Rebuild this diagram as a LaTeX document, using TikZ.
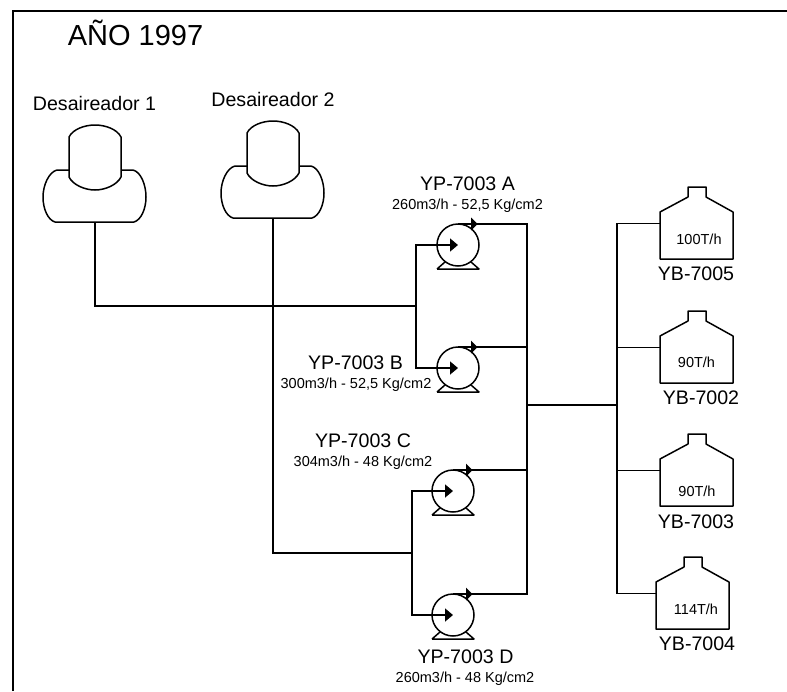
\documentclass[tikz,border=0pt]{standalone}
\usepackage{fontspec}
\setmainfont{Liberation Sans}
\usetikzlibrary{arrows.meta}
\tikzset{
  x=1pt,y=-1pt,
  pipe/.style={line width=1.6pt,line cap=butt},
  frameline/.style={line width=2pt},
  equip/.style={line width=1.5pt,line join=round},
  pumpbody/.style={circle,draw,line width=1.5pt,minimum size=42pt,inner sep=0pt,outer sep=0pt},
  inflow/.style={pipe,-{Triangle[length=8pt,width=13pt]}},
  title/.style={anchor=base,inner sep=0pt,font=\fontsize{29}{29}\selectfont},
  lab/.style={anchor=base,inner sep=0pt,font=\fontsize{19.6}{19.6}\selectfont},
  sublab/.style={anchor=base,inner sep=0pt,font=\fontsize{14.5}{14.5}\selectfont}
}
\newcommand{\pumpsym}[3]{%
  \node[pumpbody] (#1) at (#2,#3) {};
  \begin{scope}[shift={(#2,#3)}]
    \draw[equip] (-21,24)--(21,24)--(13,17) (-21,24)--(-13,17);
    \fill (13,-27.5)--(19.5,-21)--(13,-14.5)--cycle;
  \end{scope}}
\newcommand{\tanksym}[3]{%
  \begin{scope}[shift={(#2,#3)}]
    \draw[equip] (0,72)--(0,25)--(28,10)--(28,0)--(46,0)--(46,10)--(73,25)--(73,72)--cycle;
    \coordinate (#1) at (0,36.5);
  \end{scope}}
\newcommand{\deaersym}[3]{%
  \begin{scope}[shift={(#2,#3)}]
    \draw[equip] (14,45) -- (90,45) .. controls (98,47) and (103,60) .. (103,72)
      .. controls (103,84) and (98,95) .. (91,97) -- (12,97)
      .. controls (5,95) and (0,84) .. (0,72) .. controls (0,60) and (6,47) .. (14,45) -- cycle;
    \draw[equip,fill=white] (26,12) .. controls (30,4) and (42,0) .. (52,0)
      .. controls (62,0) and (74,4) .. (78,12) -- (78,52)
      .. controls (74,60) and (62,65) .. (52,65)
      .. controls (42,65) and (30,60) .. (26,52) -- cycle;
    \coordinate (#1) at (52,97);
  \end{scope}}
\begin{document}
\begin{tikzpicture}
\useasboundingbox (0,0) rectangle (787,691);
\coordinate (frTL) at (13,11);
\coordinate (frTR) at (787,11);
\coordinate (frBL) at (13,691);
\draw[frameline] (frBL) -- (frTL) -- (frTR);

\node[title] (ttl) at (135.5,45) {AÑO 1997};

\deaersym{dA}{43}{125}
\deaersym{dB}{221}{121}
\node[lab] (ldA) at (94.5,110) {Desaireador 1};
\node[lab] (ldB) at (273,106) {Desaireador 2};

\pumpsym{pA}{458}{245}
\pumpsym{pB}{458}{368}
\pumpsym{pC}{453}{491}
\pumpsym{pD}{453}{615}

\tanksym{tA}{660}{187}
\tanksym{tB}{660}{311}
\tanksym{tC}{660}{434}
\tanksym{tD}{656}{557}

% suction headers
\coordinate (busAB) at (416,306);
\coordinate (busCD) at (412,553);
\draw[pipe] (dA) |- (busAB);
\draw[pipe] (dB) |- (busCD);
\draw[inflow] (busAB) |- (pA.center);
\draw[inflow] (busAB) |- (pB.center);
\draw[inflow] (busCD) |- (pC.center);
\draw[inflow] (busCD) |- (pD.center);

% discharge header
\coordinate (hdr) at (527,405);
\coordinate (main) at (617,405);
\draw[pipe] (pA.north) -| (hdr);
\draw[pipe] (pD.north) -| (hdr);
\draw[pipe] (pB.north) -- (pB.north -| hdr);
\draw[pipe] (pC.north) -- (pC.north -| hdr);
\draw[pipe] (hdr) -- (main);
\draw[pipe] (main) |- (tA);
\draw[pipe] (main) |- (tB);
\draw[pipe] (main) |- (tC);
\draw[pipe] (main) |- (tD);

\node[lab] (lpA) at (467.5,190) {YP-7003 A};
\node[sublab] (spA) at (467.5,209) {260m3/h - 52,5 Kg/cm2};
\node[lab] (lpB) at (355.5,369) {YP-7003 B};
\node[sublab] (spB) at (356,388) {300m3/h - 52,5 Kg/cm2};
\node[lab] (lpC) at (363,447) {YP-7003 C};
\node[sublab] (spC) at (363,466) {304m3/h - 48 Kg/cm2};
\node[lab] (lpD) at (465.5,663) {YP-7003 D};
\node[sublab] (spD) at (465,682) {260m3/h - 48 Kg/cm2};

\node[lab] (ltA) at (696,280) {YB-7005};
\node[lab] (ltB) at (701,404) {YB-7002};
\node[lab] (ltC) at (696,528) {YB-7003};
\node[lab] (ltD) at (697,650) {YB-7004};
\node[sublab] (rtA) at (699,244) {100T/h};
\node[sublab] (rtB) at (696.5,367) {90T/h};
\node[sublab] (rtC) at (697,496) {90T/h};
\node[sublab] (rtD) at (696,614) {114T/h};
\end{tikzpicture}
\end{document}
